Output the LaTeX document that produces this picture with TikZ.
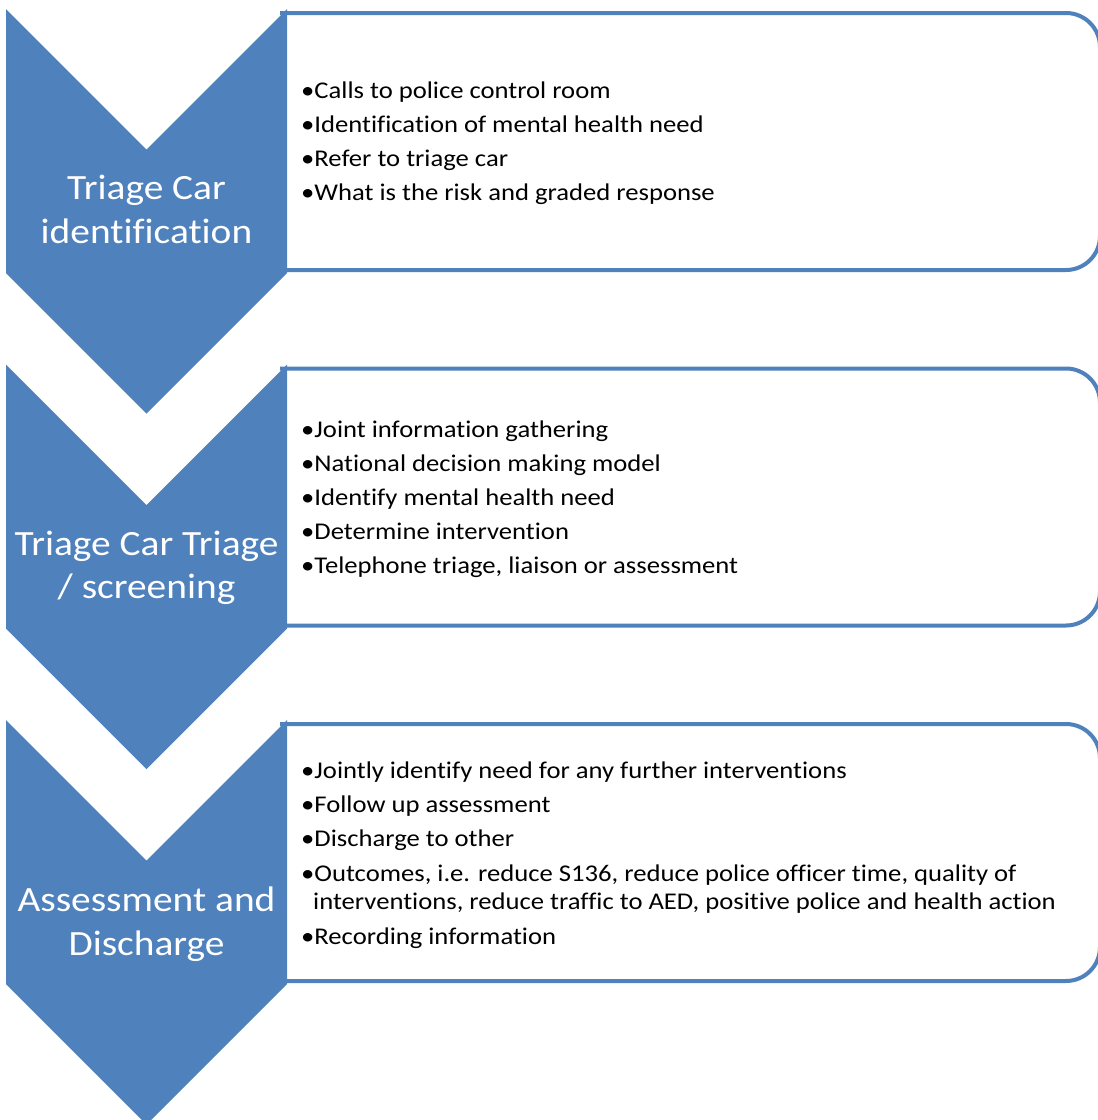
\documentclass[tikz,border=0pt]{standalone}
\usepackage{fontspec}
\setmainfont{Carlito}[FakeStretch=1.11,Ligatures=NoCommon]
\definecolor{accent}{HTML}{4F81BD}
\begin{document}
\begin{tikzpicture}[x=1pt,y=-1pt,
  chev/.style={fill=accent,draw=none},
  boxline/.style={draw=accent,line width=4pt,rounded corners=34pt},
  lbl/.style={anchor=base,inner sep=0pt,text=white,font=\fontsize{35.5}{43}\selectfont},
  itm/.style={anchor=base west,inner sep=0pt,text=black,font=\fontsize{24}{29}\selectfont}]
\useasboundingbox (0,0) rectangle (1098,1120);
\fill[white] (0,0) rectangle (1098,1120);
\clip (0,0) rectangle (1098,1120);
% boxes
\foreach \t in {9,364.5,720}{
  \draw[boxline,fill=white] (280,\t+4) -- (1100,\t+4) -- (1100,\t+261) -- (280,\t+261);
  \fill[chev] (6,\t) -- (146.5,\t+140.5) -- (287,\t) -- (287,\t+264) -- (146.5,\t+404.5) -- (6,\t+264) -- cycle;
}
% labels
\node[lbl] (l1a) at (146.5,199.5) {Triage Car};
\node[lbl] (l1b) at (146.5,243) {identification};
\node[lbl] (l2a) at (146.5,555) {Triage Car Triage};
\node[lbl] (l2b) at (146.5,598) {/ screening};
\node[lbl] (l3a) at (146.5,911.5) {Assessment and};
\node[lbl] (l3b) at (146.5,955) {Discharge};
% box 1
\node[itm] (a1) at (301,98) {•Calls to police control room};
\node[itm] (a2) at (301,132) {•Identification of mental health need};
\node[itm] (a3) at (301,166) {•Refer to triage car};
\node[itm] (a4) at (301,200) {•What is the risk and graded response};
% box 2
\node[itm] (b1) at (301,437) {•Joint information gathering};
\node[itm] (b2) at (301,471) {•National decision making model};
\node[itm] (b3) at (301,505) {•Identify mental health need};
\node[itm] (b4) at (301,539) {•Determine intervention};
\node[itm] (b5) at (301,573) {•Telephone triage, liaison or assessment};
% box 3
\node[itm] (c1) at (301,778) {•Jointly identify need for any further interventions};
\node[itm] (c2) at (301,812) {•Follow up assessment};
\node[itm] (c3) at (301,846) {•Discharge to other};
\node[itm] (c4) at (301,881) {•Outcomes, i.e. reduce S136, reduce police officer time, quality of};
\node[itm] (c4b) at (313,909) {interventions, reduce traffic to AED, positive police and health action};
\node[itm] (c5) at (301,944) {•Recording information};
\end{tikzpicture}
\end{document}
